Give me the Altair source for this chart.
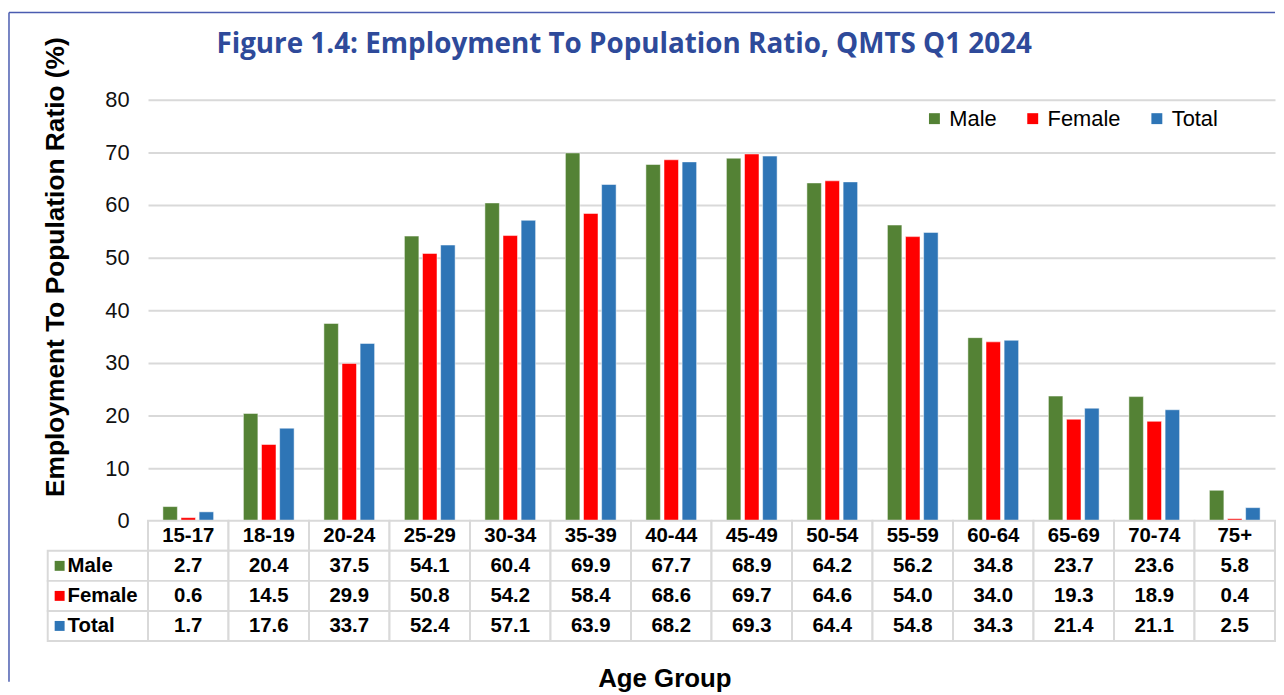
import altair as alt
import pandas as pd

ages = ["15-17", "18-19", "20-24", "25-29", "30-34", "35-39", "40-44",
        "45-49", "50-54", "55-59", "60-64", "65-69", "70-74", "75+"]
sexes = ["Male", "Female", "Total"]
male = [2.7, 20.4, 37.5, 54.1, 60.4, 69.9, 67.7, 68.9, 64.2, 56.2, 34.8, 23.7, 23.6, 5.8]
female = [0.6, 14.5, 29.9, 50.8, 54.2, 58.4, 68.6, 69.7, 64.6, 54.0, 34.0, 19.3, 18.9, 0.4]
total = [1.7, 17.6, 33.7, 52.4, 57.1, 63.9, 68.2, 69.3, 64.4, 54.8, 34.3, 21.4, 21.1, 2.5]
colors = ["#548235", "#FF0000", "#2E75B6"]
y_ticks = [0, 10, 20, 30, 40, 50, 60, 70, 80]

title_text = "Figure 1.4: Employment To Population Ratio, QMTS Q1 2024"
y_title = "Employment To Population Ratio (%)"
x_title = "Age Group"
header_key = "Age"

series = {"Male": male, "Female": female, "Total": total}
rows = []
for s in sexes:
    for a, v in zip(ages, series[s]):
        rows.append({"age": a, "sex": s, "value": v})
df = pd.DataFrame(rows)

tbl_rows = [{"age": a, "row": header_key, "label": a} for a in ages]
for s in sexes:
    for a, v in zip(ages, series[s]):
        tbl_rows.append({"age": a, "row": s, "label": f"{v:.1f}"})
tbl = pd.DataFrame(tbl_rows)
left = pd.DataFrame({"row": sexes})
one = pd.DataFrame({"k": [0]})

W = 1135
H = 424
TH = 121
FONT = "Liberation Sans"
row_order = [header_key] + sexes

bars = alt.Chart(df).mark_bar(stroke="white", strokeWidth=0.5).encode(
    x=alt.X("age:N", sort=ages, axis=None,
            scale=alt.Scale(paddingInner=0.37, paddingOuter=0.185)),
    xOffset=alt.XOffset("sex:N", sort=sexes, scale=alt.Scale(paddingInner=0.2)),
    y=alt.Y("value:Q", scale=alt.Scale(domain=[0, 80]),
            axis=alt.Axis(values=y_ticks, grid=True, gridColor="#d9d9d9", gridWidth=2,
                          domain=False, ticks=False, labelFontSize=22, labelFont=FONT,
                          labelColor="#111111", labelPadding=19,
                          title=y_title, titleFontSize=26.5, titleFont=FONT,
                          titleFontWeight="bold", titleColor="black",
                          titleX=-93, titleY=168, titleAlign="center",
                          titleBaseline="middle", titleAngle=270)),
    color=alt.Color("sex:N", sort=sexes,
                    scale=alt.Scale(domain=sexes, range=colors),
                    legend=alt.Legend(title=None, orient="none", legendX=781, legendY=8,
                                      direction="horizontal", symbolType="square",
                                      symbolSize=121, symbolStrokeWidth=0,
                                      labelFontSize=22, labelFont=FONT, labelColor="black",
                                      columnPadding=25, labelOffset=4, padding=0)),
).properties(
    width=W, height=H,
    title=alt.TitleParams(title_text, anchor="middle", dx=-88, offset=0, dy=23,
                          fontSize=28, font="Open Sans", fontWeight="bold",
                          color="#2E4A9A"),
)

xs = alt.X("age:N", sort=ages, scale=alt.Scale(paddingInner=0, paddingOuter=0),
           axis=alt.Axis(labels=False, ticks=False, domain=False, grid=False,
                         title=x_title, titleFontSize=26, titleFont=FONT,
                         titleFontWeight="bold", titleColor="black",
                         titlePadding=25, titleX=520, titleAlign="center",
                         titleBaseline="top"))
ys = alt.Y("row:N", sort=row_order, axis=None,
           scale=alt.Scale(domain=row_order, paddingInner=0, paddingOuter=0))

cells = alt.Chart(tbl).mark_rect(fill="white", stroke="#d9d9d9", strokeWidth=2).encode(x=xs, y=ys)
texts = alt.Chart(tbl).mark_text(font=FONT, fontSize=20.5, fontWeight="bold",
                                 color="black").encode(x=xs, y=ys, text="label:N")
left_cells = alt.Chart(left).mark_rect(fill="white", stroke="#d9d9d9", strokeWidth=2).encode(
    x=alt.value(-101), x2=alt.value(0), y=ys)
left_sq = alt.Chart(left).mark_square(size=100, opacity=1).encode(
    x=alt.value(-89), y=ys,
    color=alt.Color("row:N", scale=alt.Scale(domain=sexes, range=colors), legend=None))
left_txt = alt.Chart(left).mark_text(font=FONT, fontSize=20.5, fontWeight="bold",
                                     color="black", align="left").encode(
    x=alt.value(-81), y=ys, text="row:N")

frame_left = alt.Chart(one).mark_rule(color="#4a5cb0", strokeWidth=1.5).encode(
    x=alt.value(-140), y=alt.value(-512), y2=alt.value(162))
frame_top = alt.Chart(one).mark_rule(color="#4a5cb0", strokeWidth=1.5).encode(
    x=alt.value(-140), x2=alt.value(W), y=alt.value(-512))

table = alt.layer(cells, texts, left_cells, left_sq, left_txt, frame_left, frame_top).properties(
    width=W, height=TH)

chart = alt.vconcat(bars, table, spacing=0, bounds="flush").resolve_scale(
    x="independent", y="independent", color="independent"
).properties(
    padding={"left": 0, "top": 1, "right": 0, "bottom": 0}
).configure_view(stroke=None)

chart.save("out.html", embed_options={"renderer": "svg", "actions": False})
